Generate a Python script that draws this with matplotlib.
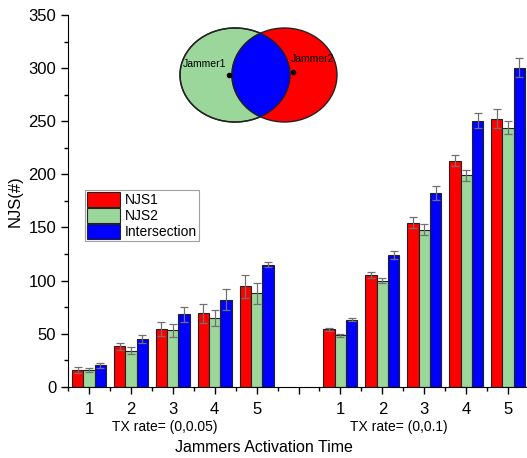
import matplotlib.pyplot as plt
from matplotlib.patches import Ellipse
from matplotlib.ticker import MultipleLocator, FixedLocator

plt.rcParams['font.family'] = ['Liberation Sans', 'DejaVu Sans']

activation = ['1', '2', '3', '4', '5']
series = ['NJS1', 'NJS2', 'Intersection']
colors = ['#ff0000', '#9bd69b', '#0000ff']

# TX rate = (0,0.05)
njs1_a = [16, 38, 54, 69, 94.5]
njs2_a = [16, 34, 53, 65, 88]
inter_a = [20, 45, 68, 82, 115]
err1_a = [3, 3, 6.5, 9, 11]
err2_a = [2, 3, 6, 7.5, 10]
erri_a = [2.5, 4, 7.5, 10, 2.5]

# TX rate = (0,0.1)
njs1_b = [54, 105, 154.5, 213, 252.5]
njs2_b = [48.5, 100, 148, 199, 244]
inter_b = [63, 124, 182.5, 250.5, 300.5]
err1_b = [1.5, 3, 5, 5.5, 9]
err2_b = [1.5, 2.5, 5, 5, 6]
erri_b = [1.5, 3.5, 7, 7, 9]

fig = plt.figure(figsize=(5.27, 4.58), dpi=100)
ax = fig.add_axes([0.129, 0.1557, 0.871, 0.8113])

pos_a = [1, 2, 3, 4, 5]
pos_b = [7, 8, 9, 10, 11]
w = 0.27
data = [
    (njs1_a, err1_a, njs1_b, err1_b),
    (njs2_a, err2_a, njs2_b, err2_b),
    (inter_a, erri_a, inter_b, erri_b),
]
for i, (va, ea, vb, eb) in enumerate(data):
    off = (i - 1) * w
    for pos, v, e in ((pos_a, va, ea), (pos_b, vb, eb)):
        x = [p + off for p in pos]
        ax.bar(x, v, w, color=colors[i], edgecolor='#222222', linewidth=0.8,
               label=series[i] if pos is pos_a else None, zorder=2)
        ax.errorbar(x, v, yerr=e, fmt='none', ecolor='#707070', elinewidth=0.9,
                    capsize=3, capthick=0.9, zorder=3)

ax.set_xlim(0.5, 11.45)
ax.set_ylim(0, 350)
ax.spines['top'].set_visible(False)
ax.spines['right'].set_visible(False)
ax.yaxis.set_major_locator(MultipleLocator(50))
ax.yaxis.set_minor_locator(MultipleLocator(25))
ax.xaxis.set_major_locator(FixedLocator(list(range(1, 12))))
ax.xaxis.set_minor_locator(FixedLocator([x + 0.5 for x in range(0, 12)]))
ax.set_xticklabels(activation + [''] + activation)
ax.tick_params(axis='both', which='major', labelsize=12, length=5, width=1)
ax.tick_params(axis='both', which='minor', length=3, width=1)
ax.tick_params(axis='x', pad=6)

ax.set_ylabel('NJS(#)', fontsize=12, labelpad=4)
fig.text(0.5, 0.024, 'Jammers Activation Time', fontsize=11.5, ha='center', va='center')
fig.text(0.312, 0.068, 'TX rate= (0,0.05)', fontsize=10, ha='center', va='center')
fig.text(0.757, 0.068, 'TX rate= (0,0.1)', fontsize=10, ha='center', va='center')

leg = ax.legend(loc='upper left', bbox_to_anchor=(0.037, 0.529), fontsize=10,
                frameon=True, fancybox=False, edgecolor='#888888',
                handlelength=2.4, handleheight=1.3, labelspacing=0.05,
                handletextpad=0.3, borderpad=0.15, borderaxespad=0)
leg.get_frame().set_linewidth(0.8)

# venn inset, in pixel coordinates
vax = fig.add_axes([170 / 527, 1 - 135 / 458, 180 / 527, 120 / 458])
vax.set_xlim(170, 350)
vax.set_ylim(135, 15)
vax.axis('off')
green = Ellipse((235, 75), 110, 94, facecolor='#9bd69b', edgecolor='#222222', lw=1)
red = Ellipse((284.5, 75), 105, 94, facecolor='#ff0000', edgecolor='#222222', lw=1)
vax.add_patch(green)
vax.add_patch(red)
clip = Ellipse((235, 75), 110, 94, transform=vax.transData)
blue = Ellipse((284.5, 75), 105, 94, facecolor='#0000ff', edgecolor='#222222', lw=1)
vax.add_patch(blue)
blue.set_clip_path(clip)
edge = Ellipse((235, 75), 110, 94, facecolor='none', edgecolor='#222222', lw=1)
vax.add_patch(edge)
vax.plot([229, 293], [75, 72], 'o', color='black', markersize=3)
vax.text(226, 64, 'Jammer1', fontsize=7.5, ha='right', va='center')
vax.text(291, 59, 'Jammer2', fontsize=7.5, ha='left', va='center')

fig.savefig('out.png', dpi=100)
